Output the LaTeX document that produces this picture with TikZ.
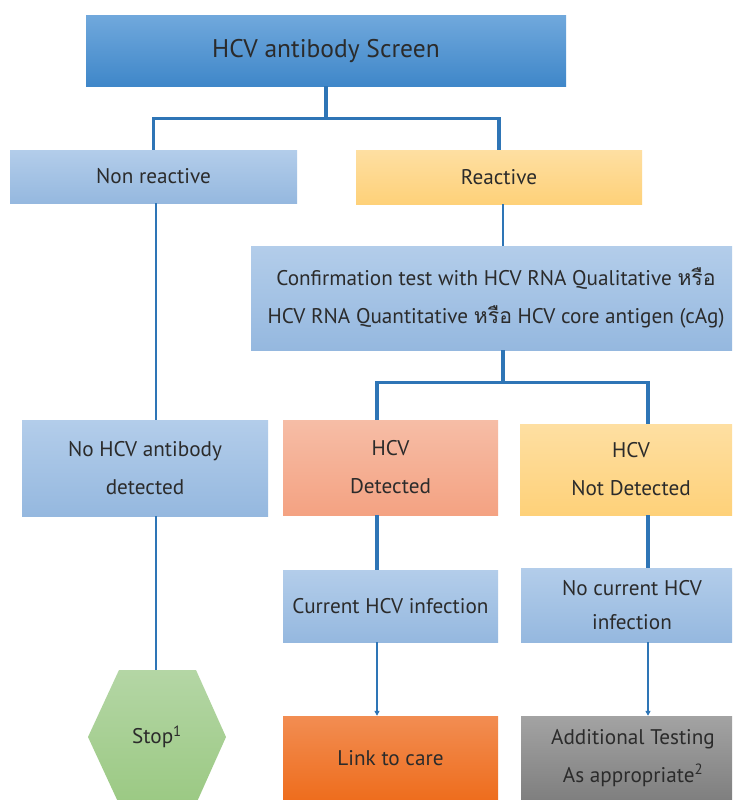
\documentclass[tikz,border=0pt]{standalone}
\usepackage{fontspec}
\setmainfont{PT Sans}
\newfontfamily\thaifont[Script=Thai]{Loma}
\usetikzlibrary{arrows.meta,calc}
\definecolor{linec}{HTML}{2E75B6}
\definecolor{txt}{HTML}{2B2B2B}
\tikzset{
  boxbase/.style={rectangle, inner sep=0pt, align=center, text=txt, font=\fontsize{21.2}{38}\selectfont},
  topbox/.style={boxbase, top color=topA, bottom color=topB, font=\fontsize{25.5}{30}\selectfont},
  bluebox/.style={boxbase, top color=bluA, bottom color=bluB},
  yelbox/.style={boxbase, top color=yelA, bottom color=yelB},
  salbox/.style={boxbase, top color=salA, bottom color=salB},
  orgbox/.style={boxbase, top color=orgA, bottom color=orgB},
  graybox/.style={boxbase, top color=gryA, bottom color=gryB},
  thk/.style={draw=linec, line width=3.1pt},
  thn/.style={draw=linec, line width=1.8pt},
  arr/.style={thn, -{Triangle[length=5pt,width=5pt]}}
}
\definecolor{topA}{HTML}{70A8DC}
\definecolor{topB}{HTML}{3F87C9}
\definecolor{bluA}{HTML}{B3CDEA}
\definecolor{bluB}{HTML}{95B8DF}
\definecolor{yelA}{HTML}{FEDFA2}
\definecolor{yelB}{HTML}{FED179}
\definecolor{salA}{HTML}{F6BDA6}
\definecolor{salB}{HTML}{F4A282}
\definecolor{orgA}{HTML}{F28D52}
\definecolor{orgB}{HTML}{EE6D1D}
\definecolor{gryA}{HTML}{A3A3A3}
\definecolor{gryB}{HTML}{7F7F7F}
\definecolor{grnA}{HTML}{B4D6A5}
\definecolor{grnB}{HTML}{9BC983}
\begin{document}
\begin{tikzpicture}[x=1pt,y=-1pt]
\useasboundingbox (0,0) rectangle (732,800);
\clip (0,0) rectangle (732,800);
\fill[white] (0,0) rectangle (732,800);
% nodes
\node[topbox, minimum width=480pt, minimum height=70pt] (top) at (326,51) {HCV antibody Screen};
\node[bluebox, minimum width=287pt, minimum height=53pt] (nonr) at (153.5,176.5) {Non reactive};
\node[yelbox, minimum width=286pt, minimum height=54pt] (react) at (499,177) {Reactive};
\node[bluebox, minimum width=490pt, minimum height=104pt] (conf) at (496,298)
  {Confirmation test with HCV RNA Qualitative {\thaifont หรือ}\\HCV RNA Quantitative {\thaifont หรือ} HCV core antigen (cAg)};
\node[bluebox, minimum width=246pt, minimum height=96pt] (noab) at (145,468) {No HCV antibody\\detected};
\node[salbox, minimum width=215pt, minimum height=95pt] (det) at (390.5,467.5) {HCV\\Detected};
\node[yelbox, minimum width=222pt, minimum height=91pt] (notdet) at (631,469.5) {HCV\\Not Detected};
\node[bluebox, minimum width=215pt, minimum height=72pt] (cur) at (390.5,606) {Current HCV infection};
\node[bluebox, minimum width=222pt, minimum height=74pt, font=\fontsize{21.2}{34}\selectfont] (nocur) at (632,605) {No current HCV\\infection};
\node[orgbox, minimum width=215pt, minimum height=84pt] (link) at (390.5,758) {Link to care};
\node[graybox, minimum width=224pt, minimum height=84pt] (add) at (633,758) {Additional Testing\\As appropriate\textsuperscript{2}};
% hexagon
\shade[top color=grnA, bottom color=grnB] (119,670) -- (196,670) -- (226,737) -- (196,804) -- (119,804) -- (88,737) -- cycle;
\node[text=txt, font=\fontsize{21.2}{24}\selectfont, inner sep=0pt] (stop) at (157,737) {Stop\textsuperscript{1}};
\coordinate (hextop) at (156,670);
% helper x positions
\coordinate (lx) at (156,0);
\coordinate (cx) at (377,0);
\coordinate (nx) at (648,0);
\coordinate (rx) at (503,0);
% connectors
\draw[thk] (top.south) -- ++(0,32) coordinate (j1);
\draw[thk] (nonr.north) |- (j1) -| (react.north);
\draw[thn] (react.south -| rx) -- (conf.north -| rx);
\draw[thk] (conf.south -| rx) -- ++(0,32) coordinate (j2);
\draw[thk] (det.north -| cx) |- (j2) -| (notdet.north -| nx);
\draw[thn] (nonr.south -| lx) -- (noab.north -| lx);
\draw[thn] (noab.south -| lx) -- (hextop);
\draw[thk] (det.south -| cx) -- (cur.north -| cx);
\draw[thk] (notdet.south -| nx) -- (nocur.north -| nx);
\draw[arr] (cur.south -| cx) -- (link.north -| cx);
\draw[arr] (nocur.south -| nx) -- (add.north -| nx);
\end{tikzpicture}
\end{document}
